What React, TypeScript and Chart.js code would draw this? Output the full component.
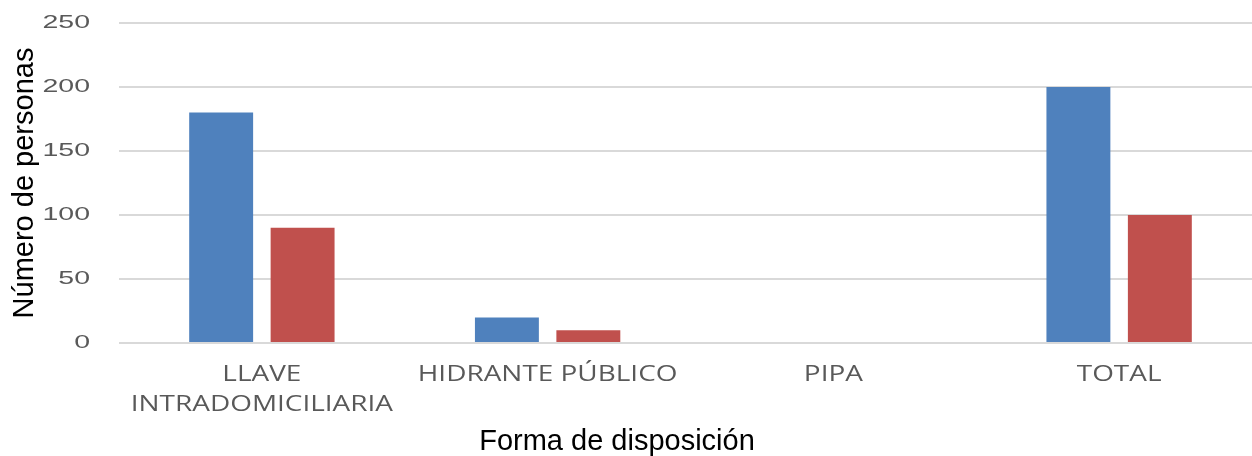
import React, { useEffect, useRef } from "react";
import { Chart, registerables, LinearScale, CategoryScale } from "chart.js";

Chart.register(...registerables);

const categories: (string | string[])[] = [
  ["LLAVE", "INTRADOMICILIARIA"],
  "HIDRANTE PÚBLICO",
  "PIPA",
  "TOTAL",
];
const seriesBlue = [180, 20, 0, 200];
const seriesRed = [90, 10, 0, 100];
const yTicks = { min: 0, max: 250, step: 50 };

// Scale subclasses whose tick labels are drawn horizontally stretched
function withStretch(Base: any, id: string, sx: number) {
  class Stretched extends Base {
    static id = id;
    static defaults = Base.defaults;
    drawLabels(area: any) {
      const ctx = (this as any).ctx;
      const items = (this as any).getLabelItems(area);
      for (const item of items) {
        const { label, font, textOffset, options } = item;
        const [tx, ty] = options.translation;
        ctx.save();
        ctx.translate(tx, ty);
        if (options.rotation) ctx.rotate(options.rotation);
        ctx.scale(sx, 1);
        ctx.font = font.string;
        ctx.fillStyle = options.color;
        ctx.textAlign = options.textAlign;
        ctx.textBaseline = options.textBaseline;
        const lines = Array.isArray(label) ? label : [label];
        let y = textOffset;
        for (const line of lines) {
          ctx.fillText(String(line), 0, y);
          y += font.lineHeight;
        }
        ctx.restore();
      }
    }
  }
  return Stretched;
}

const StretchedLinear = withStretch(LinearScale, "stretchedLinear", 1.5);
const StretchedCategory = withStretch(CategoryScale, "stretchedCategory", 1.27);
Chart.register(StretchedLinear as any, StretchedCategory as any);

export default function App() {
  const ref = useRef<HTMLCanvasElement>(null);
  useEffect(() => {
    if (!ref.current) return;
    const chart = new Chart(ref.current, {
      type: "bar",
      data: {
        labels: categories,
        datasets: [
          {
            label: "Serie 1",
            data: seriesBlue,
            backgroundColor: "#4F81BD",
            categoryPercentage: 0.57,
            barPercentage: 0.785,
          },
          {
            label: "Serie 2",
            data: seriesRed,
            backgroundColor: "#C0504D",
            categoryPercentage: 0.57,
            barPercentage: 0.785,
          },
        ],
      },
      options: {
        animation: false,
        responsive: false,
        devicePixelRatio: 1,
        layout: { padding: { top: 23, left: 0, right: 0, bottom: 0 } },
        plugins: {
          legend: { display: false },
          tooltip: { enabled: false },
          title: {
            display: true,
            position: "bottom",
            text: "Forma de disposición",
            color: "#000000",
            font: { family: "Liberation Sans", size: 29, weight: "normal", lineHeight: 1.0 },
            padding: { top: 9, bottom: 0 },
          },
        },
        scales: {
          x: {
            type: "stretchedCategory" as any,
            afterFit: (scale: any) => {
              scale.height = 75;
              scale.paddingLeft = 0;
              scale.paddingRight = 0;
            },
            grid: { display: false, drawTicks: false },
            border: { display: false },
            ticks: {
              color: "#595959",
              padding: 17,
              maxRotation: 0,
              autoSkip: false,
              font: { family: "Open Sans", size: 22, lineHeight: 1.36 },
            },
          },
          y: {
            type: "stretchedLinear" as any,
            min: yTicks.min,
            max: yTicks.max,
            afterFit: (scale: any) => {
              scale.width = 147;
              scale.paddingTop = 0;
              scale.paddingBottom = 0;
            },
            grid: { color: "#d9d9d9", lineWidth: 2, drawTicks: false },
            border: { display: false },
            ticks: {
              stepSize: yTicks.step,
              color: "#595959",
              padding: 29,
              font: { family: "Liberation Sans", size: 19 },
            },
            title: {
              display: true,
              text: "Número de personas",
              color: "#000000",
              font: { family: "Liberation Sans", size: 29, lineHeight: 1.2 },
              padding: { top: 35.6, bottom: 0 },
            },
          },
        },
      },
    });
    return () => chart.destroy();
  }, []);
  return (
    <div
      style={{
        position: "absolute",
        left: 0,
        top: 0,
        width: 1252,
        height: 456,
        overflow: "hidden",
        background: "#ffffff",
      }}
    >
      <canvas
        ref={ref}
        width={1290}
        height={456}
        style={{ position: "absolute", left: -28, top: 0, width: 1290, height: 456 }}
      />
    </div>
  );
}
